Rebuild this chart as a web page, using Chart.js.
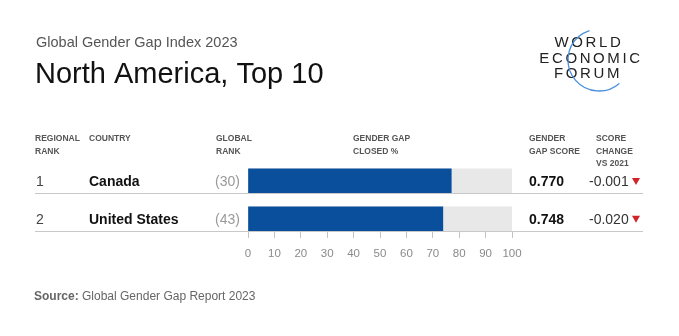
<!DOCTYPE html>
<html>
<head>
<meta charset="utf-8">
<script src="https://cdn.jsdelivr.net/npm/chart.js@4"></script>
<style>
  html, body { margin: 0; padding: 0; background: #fff; }
  #wrap { width: 679px; height: 336px; position: relative; }
</style>
</head>
<body>
<div id="wrap"><canvas id="chart" width="679" height="336"></canvas></div>
<script>
// data
const countries = ['Canada', 'United States'];
const regionalRank = ['1', '2'];
const globalRank = ['(30)', '(43)'];
const gapClosed = [77.0, 73.8];
const gapScore = ['0.770', '0.748'];
const scoreChange = ['-0.001', '-0.020'];
const fullScale = [100, 100];
const xTicks = [0, 10, 20, 30, 40, 50, 60, 70, 80, 90, 100];

const FONT = '"Liberation Sans", Arial, Helvetica, sans-serif';
const BLUE = '#0a4f9c';

const tablePlugin = {
  id: 'table',
  afterDraw(chart) {
    const ctx = chart.ctx;
    const y = chart.scales.y;
    ctx.save();
    ctx.textBaseline = 'alphabetic';
    ctx.textAlign = 'left';

    // titles
    ctx.fillStyle = '#555';
    ctx.font = '14.5px ' + FONT;
    ctx.fillText('Global Gender Gap Index 2023', 36, 47);
    ctx.fillStyle = '#111';
    ctx.font = '29px ' + FONT;
    ctx.fillText('North America, Top 10', 35, 83);

    // logo
    ctx.fillStyle = '#222';
    ctx.font = '15px ' + FONT;
    ctx.textAlign = 'center';
    if ('letterSpacing' in ctx) ctx.letterSpacing = '2.6px';
    ctx.fillText('WORLD', 589, 47);
    ctx.fillText('ECONOMIC', 591, 63);
    ctx.fillText('FORUM', 588, 78);
    if ('letterSpacing' in ctx) ctx.letterSpacing = '0px';
    ctx.strokeStyle = '#4a8fde';
    ctx.lineWidth = 1.3;
    ctx.beginPath();
    ctx.arc(599, 60, 31, 49 * Math.PI / 180, 252 * Math.PI / 180);
    ctx.stroke();

    // column headers
    ctx.textAlign = 'left';
    ctx.fillStyle = '#555';
    ctx.font = 'bold 8.5px ' + FONT;
    const hdr = [
      [35, ['REGIONAL', 'RANK']],
      [89, ['COUNTRY']],
      [216, ['GLOBAL', 'RANK']],
      [353, ['GENDER GAP', 'CLOSED %']],
      [529, ['GENDER', 'GAP SCORE']],
      [596, ['SCORE', 'CHANGE', 'VS 2021']]
    ];
    hdr.forEach(function(h) {
      h[1].forEach(function(t, i) { ctx.fillText(t, h[0], 141 + i * 12.5); });
    });

    // rows
    countries.forEach(function(c, i) {
      const cy = y.getPixelForValue(i);
      const base = cy + 5;
      ctx.fillStyle = '#444';
      ctx.font = '14px ' + FONT;
      ctx.fillText(regionalRank[i], 36, base);
      ctx.fillStyle = '#111';
      ctx.font = 'bold 14px ' + FONT;
      ctx.fillText(c, 89, base);
      ctx.fillStyle = '#999';
      ctx.font = '14px ' + FONT;
      ctx.fillText(globalRank[i], 215, base);
      ctx.fillStyle = '#111';
      ctx.font = 'bold 14px ' + FONT;
      ctx.fillText(gapScore[i], 529, base);
      ctx.fillStyle = '#333';
      ctx.font = '14px ' + FONT;
      ctx.fillText(scoreChange[i], 589, base);
      // red down triangle
      ctx.fillStyle = '#d1232a';
      ctx.beginPath();
      ctx.moveTo(632, cy - 3);
      ctx.lineTo(640, cy - 3);
      ctx.lineTo(636, cy + 4);
      ctx.closePath();
      ctx.fill();
      // row separator
      ctx.strokeStyle = '#c8c8c8';
      ctx.lineWidth = 1;
      ctx.beginPath();
      ctx.moveTo(35, Math.round(cy + 12) + 0.5);
      ctx.lineTo(643, Math.round(cy + 12) + 0.5);
      ctx.stroke();
    });

    // source
    ctx.fillStyle = '#666';
    ctx.font = 'bold 12px ' + FONT;
    ctx.fillText('Source:', 34, 300);
    const w = ctx.measureText('Source: ').width;
    ctx.font = '12px ' + FONT;
    ctx.fillText('Global Gender Gap Report 2023', 34 + w, 300);
    ctx.restore();
  }
};

new Chart(document.getElementById('chart'), {
  type: 'bar',
  data: {
    datasets: [
      {
        label: 'Gender gap closed %',
        data: gapClosed.map(function(v, i) { return { x: v, y: i }; }),
        backgroundColor: BLUE,
        barThickness: 24,
        order: 0
      },
      {
        label: 'Full',
        data: fullScale.map(function(v, i) { return { x: v, y: i }; }),
        backgroundColor: '#e8e8e8',
        barThickness: 24,
        order: 1
      }
    ]
  },
  options: {
    indexAxis: 'y',
    responsive: false,
    animation: false,
    layout: { padding: { left: 248, right: 167, top: 162, bottom: 0 } },
    datasets: { bar: { grouped: false } },
    plugins: { legend: { display: false }, tooltip: { enabled: false } },
    scales: {
      y: {
        type: 'linear', reverse: true, min: -0.5, max: 1.35, display: false,
        offset: false, grid: { offset: false }
      },
      x: {
        min: 0, max: 100,
        afterBuildTicks: function(s) { s.ticks = xTicks.map(function(v) { return { value: v }; }); },
        afterFit: function(s) { s.height = 104; },
        border: { display: false },
        grid: { drawOnChartArea: false, drawTicks: true, tickLength: 6, color: '#c4c4c4' },
        ticks: { color: '#8a8a8a', font: { family: FONT, size: 11.5 }, padding: 9, maxRotation: 0 }
      }
    }
  },
  plugins: [tablePlugin]
});
</script>
</body>
</html>
